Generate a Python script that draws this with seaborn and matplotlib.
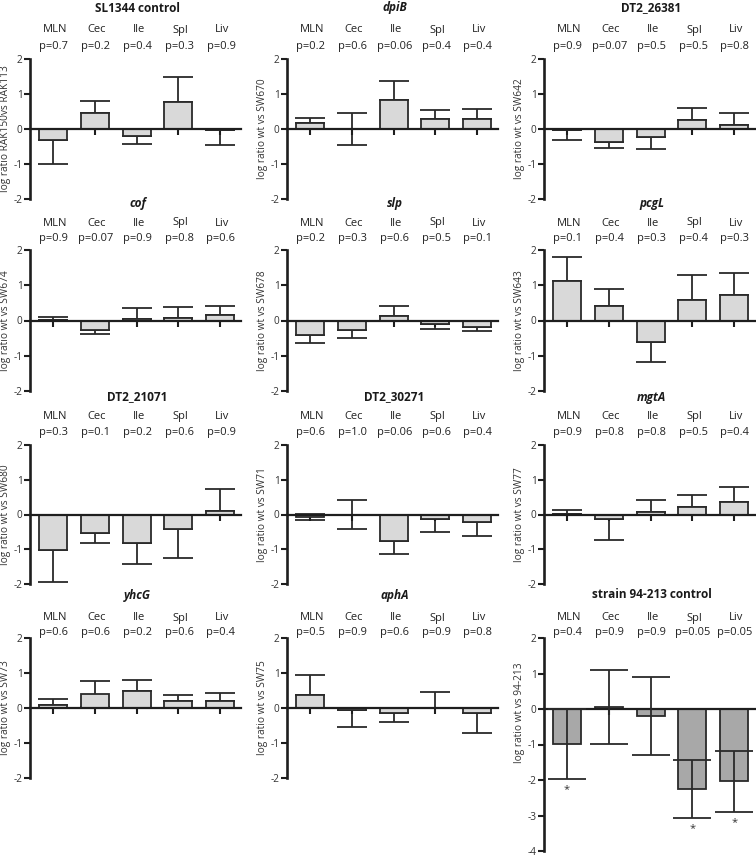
import matplotlib
matplotlib.use("Agg")
import matplotlib.pyplot as plt
import matplotlib.transforms as mtransforms
import seaborn as sns
import numpy as np

sns.set_style("ticks")
plt.rcParams['font.family'] = ['Open Sans', 'DejaVu Sans']

# ---------------- data ----------------
cats = ["MLN", "Cec", "Ile", "Spl", "Liv"]

titles = ["SL1344 control", "dpiB", "DT2_26381",
          "cof", "slp", "pcgL",
          "DT2_21071", "DT2_30271", "mgtA",
          "yhcG", "aphA", "strain 94-213 control"]
title_italic = [False, True, False,
                True, True, True,
                False, False, True,
                True, True, False]
ylabels = ["log ratio RAK150vs RAK113", "log ratio wt vs SW670", "log ratio wt vs SW642",
           "log ratio wt vs SW674", "log ratio wt vs SW678", "log ratio wt vs SW643",
           "log ratio wt vs SW680", "log ratio wt vs SW71", "log ratio wt vs SW77",
           "log ratio wt vs SW73", "log ratio wt vs SW75", "log ratio wt vs 94-213"]

pvals = [
    ["0.7", "0.2", "0.4", "0.3", "0.9"],
    ["0.2", "0.6", "0.06", "0.4", "0.4"],
    ["0.9", "0.07", "0.5", "0.5", "0.8"],
    ["0.9", "0.07", "0.9", "0.8", "0.6"],
    ["0.2", "0.3", "0.6", "0.5", "0.1"],
    ["0.1", "0.4", "0.3", "0.4", "0.3"],
    ["0.3", "0.1", "0.2", "0.6", "0.9"],
    ["0.6", "1.0", "0.06", "0.6", "0.4"],
    ["0.9", "0.8", "0.8", "0.5", "0.4"],
    ["0.6", "0.6", "0.2", "0.6", "0.4"],
    ["0.5", "0.9", "0.6", "0.9", "0.8"],
    ["0.4", "0.9", "0.9", "0.05", "0.05"],
]

means = [
    [-0.32, 0.45, -0.20, 0.78, -0.02],
    [0.17, 0.01, 0.84, 0.28, 0.30],
    [-0.02, -0.37, -0.23, 0.26, 0.11],
    [0.01, -0.26, 0.04, 0.07, 0.16],
    [-0.40, -0.27, 0.12, -0.11, -0.19],
    [1.13, 0.42, -0.62, 0.59, 0.72],
    [-1.03, -0.54, -0.83, -0.41, 0.10],
    [-0.08, 0.00, -0.75, -0.13, -0.21],
    [0.01, -0.14, 0.07, 0.23, 0.37],
    [0.10, 0.40, 0.49, 0.19, 0.19],
    [0.38, -0.07, -0.15, 0.00, -0.15],
    [-0.99, 0.06, -0.21, -2.25, -2.04],
]
err_lo = [
    [0.68, 0, 0.23, 0, 0.45],
    [0, 0.46, 0, 0, 0],
    [0.28, 0.18, 0.35, 0, 0],
    [0, 0.12, 0, 0, 0],
    [0.24, 0.23, 0, 0.14, 0.11],
    [0, 0, 0.55, 0, 0],
    [0.90, 0.29, 0.60, 0.84, 0],
    [0.09, 0.43, 0.39, 0.36, 0.42],
    [0, 0.58, 0, 0, 0],
    [0, 0.37, 0, 0, 0],
    [0, 0.47, 0.26, 0, 0.55],
    [0.99, 1.04, 1.09, 0.82, 0.86],
]
err_hi = [
    [0, 0.35, 0, 0.72, 0],
    [0.14, 0.46, 0.54, 0.26, 0.27],
    [0, 0, 0, 0.34, 0.36],
    [0.09, 0, 0.31, 0.30, 0.26],
    [0, 0, 0.28, 0, 0],
    [0.66, 0.48, 0, 0.71, 0.63],
    [0, 0, 0, 0, 0.63],
    [0.10, 0.42, 0, 0, 0],
    [0.13, 0, 0.34, 0.32, 0.43],
    [0.15, 0.38, 0.30, 0.19, 0.24],
    [0.55, 0, 0, 0.45, 0],
    [0.99, 1.04, 1.11, 0.82, 0.86],
]
significant_last = [True, False, False, True, True]

# ---------------- layout (pixels) ----------------
W, H = 756, 859
fig = plt.figure(figsize=(W / 100, H / 100), dpi=100)

col_left = [30, 287, 544]
ax_w = 211
row_top = [59, 250, 445, 638]
row_bot = [199, 391, 584, 778]
last_bot = 851
title_y = [8, 203, 397, 595]
cat_y = [30, 223, 416, 618]
p_y = [46, 239, 433, 632]

dark = "#1e1e1e"
light_bar = "#d9d9d9"
dark_bar = "#a8a8a8"

for i in range(12):
    r, c = divmod(i, 3)
    last = (i == 11)
    top = row_top[r]
    bot = last_bot if last else row_bot[r]
    ax = fig.add_axes([col_left[c] / W, 1 - bot / H, ax_w / W, (bot - top) / H])

    sns.barplot(x=cats, y=means[i], ax=ax, color=dark_bar if last else light_bar,
                saturation=1, width=0.67, edgecolor="#2a2a2a", linewidth=1.3,
                errorbar=None)
    x = np.arange(len(cats))
    ax.errorbar(x, means[i], yerr=[err_lo[i], err_hi[i]], fmt="none",
                ecolor="#2a2a2a", elinewidth=1.3, capsize=14 if last else 11,
                capthick=1.3, zorder=3 if last else 0.5)

    ax.set_xlim(-0.55, 4.5)
    ymin = -4 if last else -2
    ax.set_ylim(ymin, 2)
    ax.set_yticks(np.arange(ymin, 3, 1))
    ax.set_yticklabels([str(v) for v in range(ymin, 3)])

    for s in ["top", "right"]:
        ax.spines[s].set_visible(False)
    ax.spines["left"].set_linewidth(1.9)
    ax.spines["left"].set_color(dark)
    ax.spines["bottom"].set_position(("data", 0))
    ax.spines["bottom"].set_linewidth(1.6)
    ax.spines["bottom"].set_color(dark)
    ax.tick_params(axis="y", direction="out", length=4, width=1.5, pad=1.5,
                   labelsize=7.2, colors=dark, labelcolor="#333333")
    ax.tick_params(axis="x", direction="out", length=4, width=1.5,
                   labelbottom=False, colors=dark)
    ax.set_xlabel("")
    ax.set_ylabel(ylabels[i], fontsize=7.3, color="#333333")
    ax.yaxis.set_label_coords(-19 / ax_w, 0.65 if last else 0.5)
    ax.set_facecolor("none")

    # title + category and p-value rows
    cx = col_left[c] + ax_w / 2 + 2
    fig.text(cx / W, 1 - title_y[r] / H, titles[i], ha="center", va="center",
             fontsize=8.5, fontweight="bold",
             fontstyle="italic" if title_italic[i] else "normal", color="#1a1a1a")
    trans = mtransforms.blended_transform_factory(ax.transData, fig.transFigure)
    for k, cat in enumerate(cats):
        ax.text(k + 0.05, 1 - cat_y[r] / H, cat, transform=trans, ha="center",
                va="center", fontsize=8, color="#222222")
        ax.text(k + 0.02, 1 - p_y[r] / H, "p=" + pvals[i][k], transform=trans,
                ha="center", va="center", fontsize=8, color="#222222")

    if last:
        for k, sig in enumerate(significant_last):
            if sig:
                ax.text(k, means[i][k] - err_lo[i][k] - 0.3, "*", ha="center",
                        va="center", fontsize=8, color="#333333")

fig.savefig("out.png", dpi=100)
